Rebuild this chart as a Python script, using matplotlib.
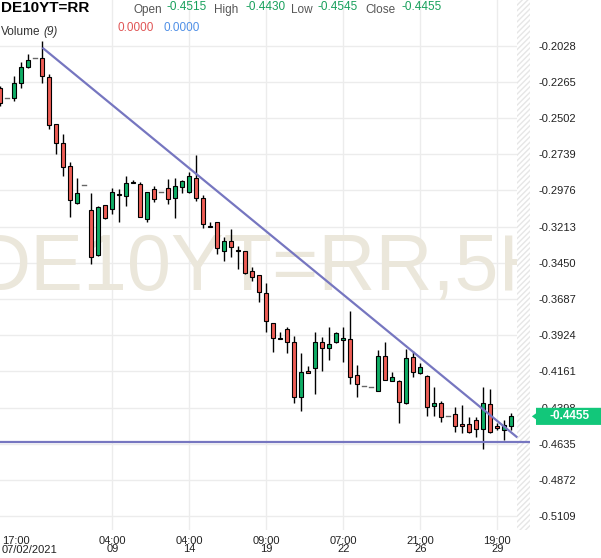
import numpy as np
import matplotlib
matplotlib.use("Agg")
import matplotlib.pyplot as plt
from matplotlib.patches import Rectangle, Polygon
from matplotlib.transforms import blended_transform_factory

plt.rcParams['font.family'] = ['Liberation Sans', 'DejaVu Sans']

# 5H candles, DE10YT=RR
opens = [-0.2305, -0.2368, -0.2372, -0.2274, -0.2169, -0.2110, -0.2110, -0.2235, -0.2543, -0.2667,
         -0.2818, -0.3056, -0.2938, -0.3104, -0.3398, -0.3073, -0.3099, -0.3001, -0.3010, -0.2924,
         -0.2933, -0.3163, -0.2966, -0.2988, -0.2960, -0.3027, -0.2955, -0.2988, -0.2894, -0.3027,
         -0.3207, -0.3184, -0.3370, -0.3307, -0.3366, -0.3372, -0.3505, -0.3529, -0.3645, -0.3845,
         -0.3944, -0.3883, -0.3970, -0.4330, -0.4160, -0.4140, -0.3970, -0.4009, -0.3970, -0.3958,
         -0.3948, -0.4184, -0.4254, -0.4262, -0.4287, -0.4060, -0.4221, -0.4223, -0.4369, -0.4068,
         -0.4173, -0.4189, -0.4385, -0.4369, -0.4452, -0.4441, -0.4507, -0.4507, -0.4479, -0.4539,
         -0.4376, -0.4518, -0.4544, -0.4515]
highs = [-0.2292, -0.2368, -0.2224, -0.2133, -0.2084, -0.2110, -0.1997, -0.2215, -0.2540, -0.2606,
         -0.2787, -0.2892, -0.2938, -0.2994, -0.3076, -0.3070, -0.2962, -0.2966, -0.2879, -0.2907,
         -0.2918, -0.2984, -0.2945, -0.2988, -0.2903, -0.2892, -0.2907, -0.2853, -0.2744, -0.3006,
         -0.3184, -0.3180, -0.3279, -0.3230, -0.3339, -0.3370, -0.3477, -0.3527, -0.3584, -0.3843,
         -0.3904, -0.3868, -0.3929, -0.4038, -0.4125, -0.3904, -0.3933, -0.3868, -0.3900, -0.3868,
         -0.3765, -0.4120, -0.4254, -0.4262, -0.4020, -0.3970, -0.4162, -0.4220, -0.4016, -0.4025,
         -0.4107, -0.4187, -0.4265, -0.4354, -0.4452, -0.4392, -0.4380, -0.4457, -0.4461, -0.4261,
         -0.4278, -0.4500, -0.4479, -0.4430]
lows = [-0.2423, -0.2368, -0.2388, -0.2303, -0.2176, -0.2110, -0.2274, -0.2573, -0.2739, -0.2879,
        -0.3148, -0.3064, -0.2938, -0.3457, -0.3407, -0.3161, -0.3132, -0.3180, -0.3076, -0.2926,
        -0.3153, -0.3180, -0.3049, -0.2988, -0.3066, -0.3158, -0.2990, -0.2994, -0.3045, -0.3224,
        -0.3213, -0.3394, -0.3436, -0.3413, -0.3492, -0.3523, -0.3567, -0.3704, -0.3900, -0.4035,
        -0.3950, -0.4042, -0.4369, -0.4418, -0.4172, -0.4310, -0.4158, -0.4086, -0.3976, -0.4099,
        -0.4245, -0.4330, -0.4254, -0.4262, -0.4290, -0.4220, -0.4223, -0.4500, -0.4372, -0.4199,
        -0.4175, -0.4450, -0.4450, -0.4490, -0.4452, -0.4555, -0.4566, -0.4566, -0.4592, -0.4670,
        -0.4562, -0.4544, -0.4610, -0.4545]
closes = [-0.2405, -0.2368, -0.2274, -0.2169, -0.2122, -0.2110, -0.2224, -0.2547, -0.2667, -0.2824,
          -0.3036, -0.2992, -0.2938, -0.3409, -0.3086, -0.3158, -0.2988, -0.3003, -0.2927, -0.2920,
          -0.3148, -0.2986, -0.3034, -0.2988, -0.3032, -0.2947, -0.2916, -0.2881, -0.3025, -0.3195,
          -0.3213, -0.3354, -0.3307, -0.3348, -0.3371, -0.3514, -0.3544, -0.3643, -0.3828, -0.3944,
          -0.3950, -0.3970, -0.4326, -0.4166, -0.4169, -0.3970, -0.4009, -0.3983, -0.3911, -0.3944,
          -0.4199, -0.4245, -0.4254, -0.4262, -0.4060, -0.4217, -0.4199, -0.4363, -0.4075, -0.4162,
          -0.4134, -0.4392, -0.4369, -0.4457, -0.4452, -0.4516, -0.4516, -0.4559, -0.4539, -0.4369,
          -0.4559, -0.4533, -0.4511, -0.4455]

ytick_labels = ['-0.2028', '-0.2265', '-0.2502', '-0.2739', '-0.2976', '-0.3213', '-0.3450',
                '-0.3687', '-0.3924', '-0.4161', '-0.4398', '-0.4635', '-0.4872', '-0.5109']
xtick_idx = [16, 27, 38, 49, 60, 71]
xtick_labels = ['04:00\n09', '04:00\n14', '09:00\n19', '07:00\n22', '21:00\n26', '19:00\n29']
first_label = '17:00\n07/02/2021'

# drawn lines (trend + support)
trend_x = [6.0, 73.85]
trend_y = [-0.2041, -0.4593]
support_y = -0.4625

RED = '#ee5d55'
GREEN = '#0fae66'
PURPLE = '#7676c0'

fig = plt.figure(figsize=(6.01, 5.58), dpi=100, facecolor='white')
ax = fig.add_axes([0.0, 28 / 558, 530 / 601, 530 / 558])
ax.set_facecolor('white')
ax.set_xlim(-0.05, 75.66)
ax.set_ylim(-0.5199, -0.1729)

for s in ax.spines.values():
    s.set_visible(False)

# grid
yticks = [float(t) for t in ytick_labels]
for yv in yticks:
    ax.axhline(yv, color='#ececec', lw=1.0, zorder=0)
for xi in xtick_idx:
    ax.axvline(xi, color='#ececec', lw=1.0, zorder=0)

# watermark
wm = ax.text(0.5, 0.4528, 'DE10YT=RR,5H', transform=ax.transAxes, ha='center', va='baseline',
             fontsize=57, color='#ebe7db', zorder=1)
wm.set_clip_on(True)

# hatched future area
hatch_start = 73.8
ax.add_patch(Rectangle((hatch_start, -0.6), 5, 0.6, facecolor='white', edgecolor='#e6e6e6',
                       hatch='//////', lw=0, zorder=2))

# candles
w = 0.55
for i in range(len(opens)):
    o, h, l, c = opens[i], highs[i], lows[i], closes[i]
    if h == l:
        ax.plot([i - w / 2, i + w / 2], [o, o], color='#666666', lw=1.0, zorder=3)
        continue
    ax.plot([i, i], [l, h], color='black', lw=1.0, zorder=3, solid_capstyle='butt')
    col = GREEN if c > o else RED
    ax.add_patch(Rectangle((i - w / 2, min(o, c)), w, abs(c - o), facecolor=col,
                           edgecolor='black', lw=0.8, zorder=4))

# trend lines
ax.plot(trend_x, trend_y, color=PURPLE, lw=1.6, zorder=5, solid_capstyle='butt')
ax.axhline(support_y, color=PURPLE, lw=1.6, zorder=5)

# axes ticks
ax.yaxis.tick_right()
ax.set_yticks(yticks)
ax.set_yticklabels(ytick_labels)
ax.tick_params(axis='y', length=0, pad=6, labelsize=8, labelcolor='#222222')
ax.set_xticks(xtick_idx)
ax.set_xticklabels(xtick_labels, linespacing=0.85)
ax.tick_params(axis='x', length=0, pad=4, labelsize=8, labelcolor='#222222')
ax.text(0.004, -0.012, first_label, transform=ax.transAxes, ha='left', va='top',
        fontsize=8, color='#222222', linespacing=0.85)

# last price box
tr = blended_transform_factory(ax.transAxes, ax.transData)
last = closes[-1]
hh = 0.0056
box = Polygon([(1.0113, last + hh), (1.14, last + hh), (1.14, last - hh), (1.0113, last - hh),
               (1.0113, last - 0.35 * hh), (1.0035, last), (1.0113, last + 0.35 * hh)],
              closed=True, transform=tr, facecolor='#12c77a', edgecolor='none',
              clip_on=False, zorder=6)
ax.add_patch(box)
ax.text(1.075, last, '%.4f' % last, transform=tr, ha='center', va='center', fontsize=8.5,
        fontweight='bold', color='white', zorder=7, clip_on=False)

# header
def ftxt(x, y, s, **kw):
    fig.text(x / 601, 1 - y / 558, s, va='baseline', **kw)

ftxt(1, 12.5, 'DE10YT=RR', fontsize=11, fontweight='bold', color='black')
hdr = [('Open', opens[-1], 133, 167), ('High', highs[-1], 214, 245),
       ('Low', lows[-1], 291, 318), ('Close', closes[-1], 365, 401)]
for name, val, xl, xv in hdr:
    ftxt(xl, 12.8, name, fontsize=8.5, color='#555555')
    ftxt(xv, 9.5, '%.4f' % val, fontsize=8.5, color='#18a05c')
ftxt(1, 35, 'Volume', fontsize=8.5, color='#333333')
ftxt(43, 35, '(9)', fontsize=8.5, color='#333333', style='italic')
ftxt(118, 31, '0.0000', fontsize=8.5, color='#e05555')
ftxt(163, 31, '0.0000', fontsize=8.5, color='#4f8fe6')

fig.savefig('out.png', dpi=100, facecolor='white')
